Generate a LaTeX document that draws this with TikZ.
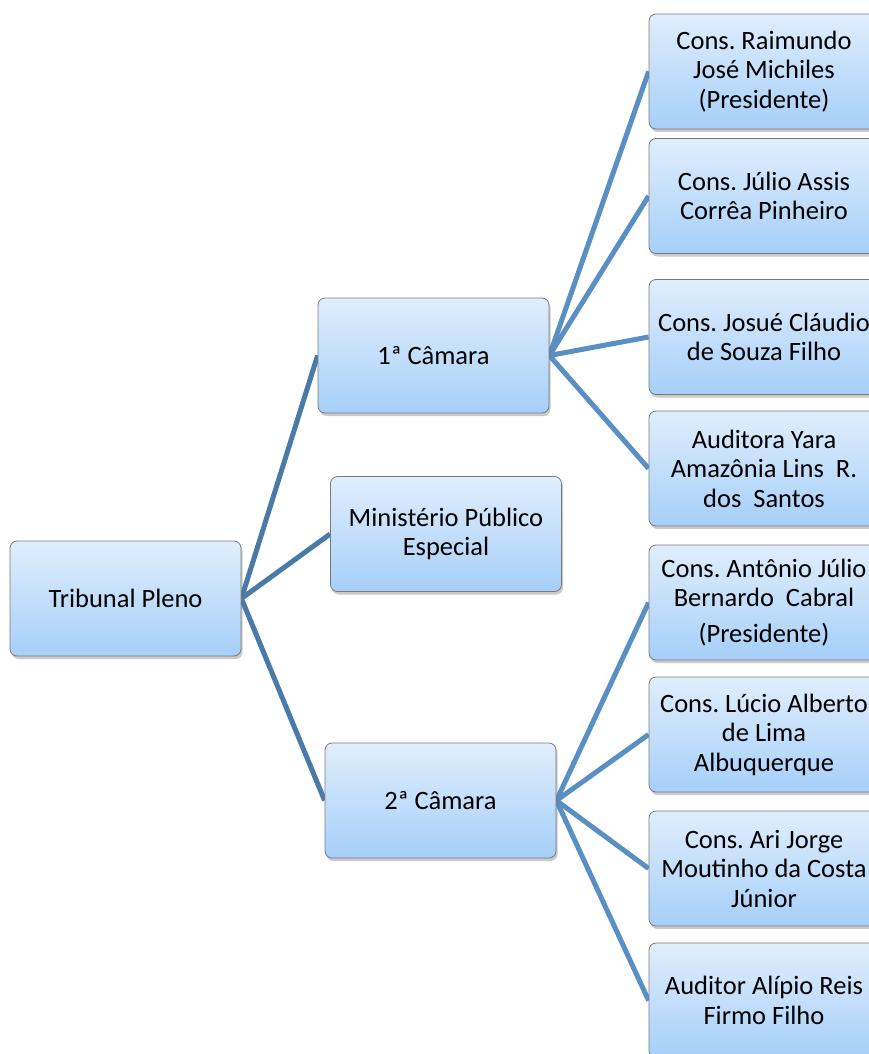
\documentclass[tikz,border=0pt]{standalone}
\usepackage{fontspec}
\setmainfont{Carlito}
\frenchspacing
\usetikzlibrary{shadows,backgrounds}
\definecolor{boxtop}{HTML}{E0EEFD}
\definecolor{boxbot}{HTML}{A6CFF9}
\definecolor{boxline}{HTML}{7A7A7A}
\definecolor{linkA}{HTML}{4A7AA7}
\definecolor{linkB}{HTML}{5A8FC3}
\tikzset{
 orgbox/.style={rectangle, rounded corners=7pt, draw=boxline, line width=0.8pt,
   top color=boxtop, bottom color=boxbot, minimum width=231pt, minimum height=115pt,
   align=center, font=\fontsize{26.5}{29.5}\selectfont, inner sep=1pt,
   drop shadow={shadow xshift=1.5pt, shadow yshift=-3pt, opacity=0.35, fill=black!60}},
 linkone/.style={draw=linkA, line width=5pt},
 linktwo/.style={draw=linkB, line width=5pt},
}
\begin{document}
\begin{tikzpicture}[x=1pt,y=-1pt]
\useasboundingbox (0,0) rectangle (869,1054);
\clip (0,0) rectangle (869,1054);
\node[orgbox] (tp) at (125.5,598.5) {Tribunal Pleno};
\node[orgbox] (c1) at (433.5,355.5) {1ª Câmara};
\node[orgbox] (mp) at (446,534) {Ministério Público\\Especial};
\node[orgbox] (c2) at (440.5,800.5) {2ª Câmara};
\node[orgbox, minimum width=230pt] (r1) at (764,71.5) {Cons. Raimundo\\José Michiles\\(Presidente)};
\node[orgbox, minimum width=230pt] (r2) at (764,196) {Cons. Júlio Assis\\Corrêa Pinheiro};
\node[orgbox, minimum width=230pt] (r3) at (764,337) {Cons. Josué Cláudio\\de Souza Filho};
\node[orgbox, minimum width=230pt] (r4) at (764,468.5) {Auditora Yara\\Amazônia Lins\ \ R.\\dos\ \ Santos};
\node[orgbox, minimum width=230pt] (r5) at (764,602.5) {Cons. Antônio Júlio\\Bernardo\ \ Cabral\\[6pt](Presidente)};
\node[orgbox, minimum width=230pt] (r6) at (764,734.5) {Cons. Lúcio Alberto\\de Lima\\Albuquerque};
\node[orgbox, minimum width=230pt] (r7) at (764,868.5) {Cons. Ari Jorge\\Moutinho da Costa\\Júnior};
\node[orgbox, minimum width=230pt] (r8) at (764,1000.5) {Auditor Alípio Reis\\Firmo Filho};
\begin{scope}[on background layer]
\draw[linkone] (tp.east) -- (c1.west);
\draw[linkone] (tp.east) -- (mp.west);
\draw[linkone] (tp.east) -- (c2.west);
\foreach \r in {r1,r2,r3,r4} \draw[linktwo] (c1.east) -- (\r.west);
\foreach \r in {r5,r6,r7,r8} \draw[linktwo] (c2.east) -- (\r.west);
\end{scope}
\end{tikzpicture}
\end{document}
